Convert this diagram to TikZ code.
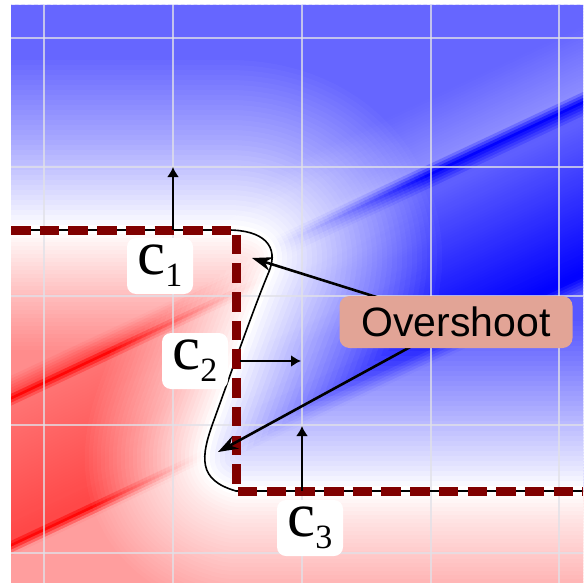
\documentclass[tikz,border=0pt]{standalone}
\usepackage{fontspec}
\setmainfont{Liberation Serif}
\newfontfamily\calloutfont{Liberation Sans}
\usetikzlibrary{arrows.meta}
\definecolor{colBoundary}{HTML}{800000}
\definecolor{colCallout}{RGB}{226,164,150}
\definecolor{colGrid}{RGB}{225,225,232}

\newcommand\bclabel[1]{\fontsize{63bp}{63bp}\selectfont c\raisebox{-12bp}{\fontsize{34bp}{34bp}\selectfont #1}}

\begin{document}
\begin{tikzpicture}[x=1bp, y=-1bp,
  gridline/.style={colGrid, opacity=0.75, line width=1.8bp},
  solution/.style={black, line width=1.6bp},
  boundary/.style={colBoundary, line width=9bp, dash pattern=on 19.5bp off 9.2bp},
  normalarrow/.style={-{Latex[length=10bp,width=12bp]}, line width=2bp},
  overarrow/.style={-{Stealth[length=20bp,width=14bp]}, line width=2.6bp},
  cbox/.style={fill=white, rounded corners=9bp, minimum width=66bp, minimum height=56bp, inner sep=0pt},
  callout/.style={fill=colCallout, rounded corners=10bp, minimum width=233bp, minimum height=52bp,
    inner sep=0pt, font=\calloutfont\fontsize{41bp}{41bp}\selectfont}]
  \useasboundingbox (0,0) rectangle (583,583);
  \fill[white] (0,0) rectangle (583,583);

  % Solution curve, overshooting at both corners
  \def\overcurve{(11,230) -- (228,230) .. controls (262,230) and (281,245) .. (268,274)
    .. controls (255,305) and (232,370) .. (214,420)
    .. controls (200,458) and (198,480) .. (236,491) -- (583,491)}

  % Field above the curve (blue): sawtooth along the characteristics,
  % faded to white towards the curve
  \begin{scope}
    \clip \overcurve -- (583,5) -- (11,5) -- cycle;
    \foreach \p in {0,3,...,780} {
      \pgfmathsetmacro\q{\p+1.5}
      \pgfmathsetmacro\s{100*(\q<300 ? 0.6 : (\q<365 ? 0.6-0.15*(\q-300)/65 :
        (\q<376 ? 0.45+0.55*(\q-365)/11 : (\q<392 ? 1-0.38*(\q-376)/16 :
        (\q<550 ? 0.62+0.38*(\q-392)/158 : (\q<566 ? 1-0.32*(\q-550)/16 : 0.66))))))}
      \fill[blue!\s!white] (0,\p) -- ({583},{\p-274}) -- ({583},{\p-269.5}) -- (0,{\p+4.5}) -- cycle;
    }
    \foreach \k in {1,...,34} {
      \pgfmathsetmacro\w{2*170*(1-(\k-1)/34)}
      \pgfmathsetmacro\a{1/(35-\k)}
      \draw[white, line join=round, line width=\w bp, opacity=\a] (-300,230) -- \overcurve -- (900,491);
    }
  \end{scope}

  % Field below the curve (red)
  \begin{scope}
    \clip \overcurve -- (583,583) -- (11,583) -- cycle;
    \foreach \p in {210,213,...,870} {
      \pgfmathsetmacro\q{\p+1.5}
      \pgfmathsetmacro\s{100*(\q<380 ? 0.45 : (\q<398 ? 0.45+0.25*(\q-380)/18 :
        (\q<403 ? 0.7+0.3*(\q-398)/5 : (\q<412 ? 1-0.45*(\q-403)/9 :
        (\q<545 ? 0.55+0.17*(\q-412)/133 : (\q<550 ? 0.72+0.28*(\q-545)/5 :
        (\q<560 ? 1-0.62*(\q-550)/10 : 0.38)))))))}
      \fill[red!\s!white] (0,\p) -- ({583},{\p-274}) -- ({583},{\p-269.5}) -- (0,{\p+4.5}) -- cycle;
    }
    \foreach \k in {1,...,30} {
      \pgfmathsetmacro\w{2*120*(1-(\k-1)/30)}
      \pgfmathsetmacro\a{1/(31-\k)}
      \draw[white, line join=round, line width=\w bp, opacity=\a] (-300,230) -- \overcurve -- (900,491);
    }
  \end{scope}

  % Grid
  \foreach \g in {44,173,302,431,559} {
    \draw[gridline] (\g,5) -- (\g,583);
  }
  \foreach \g in {38,167,296,425,553} {
    \draw[gridline] (11,\g) -- (583,\g);
  }

  % Curve and boundary
  \draw[solution] \overcurve;
  \draw[boundary] (11,230) -- (236,230) -- (236,491) -- (583,491);

  % Normals
  \coordinate (n1) at (173,230);
  \coordinate (n1tip) at (173,167);
  \coordinate (n2) at (240,361);
  \coordinate (n2tip) at (301,361);
  \coordinate (n3) at (302,491);
  \coordinate (n3tip) at (302,426);
  \draw[normalarrow] (n1) -- (n1tip);
  \draw[normalarrow] (n2) -- (n2tip);
  \draw[normalarrow] (n3) -- (n3tip);

  % Boundary pieces
  \node[cbox] (c1) at (160,266) {\bclabel{1}};
  \node[cbox] (c2) at (195,361) {\bclabel{2}};
  \node[cbox] (c3) at (310,528) {\bclabel{3}};

  % Overshoot callout
  \coordinate (ovc) at (456,322);
  \coordinate (os1) at (252,258);
  \coordinate (os2) at (218,452);
  \draw[overarrow] (ovc) -- (os1);
  \draw[overarrow] (ovc) -- (os2);
  \node[callout] (ov) at (ovc) {Overshoot};
\end{tikzpicture}
\end{document}
